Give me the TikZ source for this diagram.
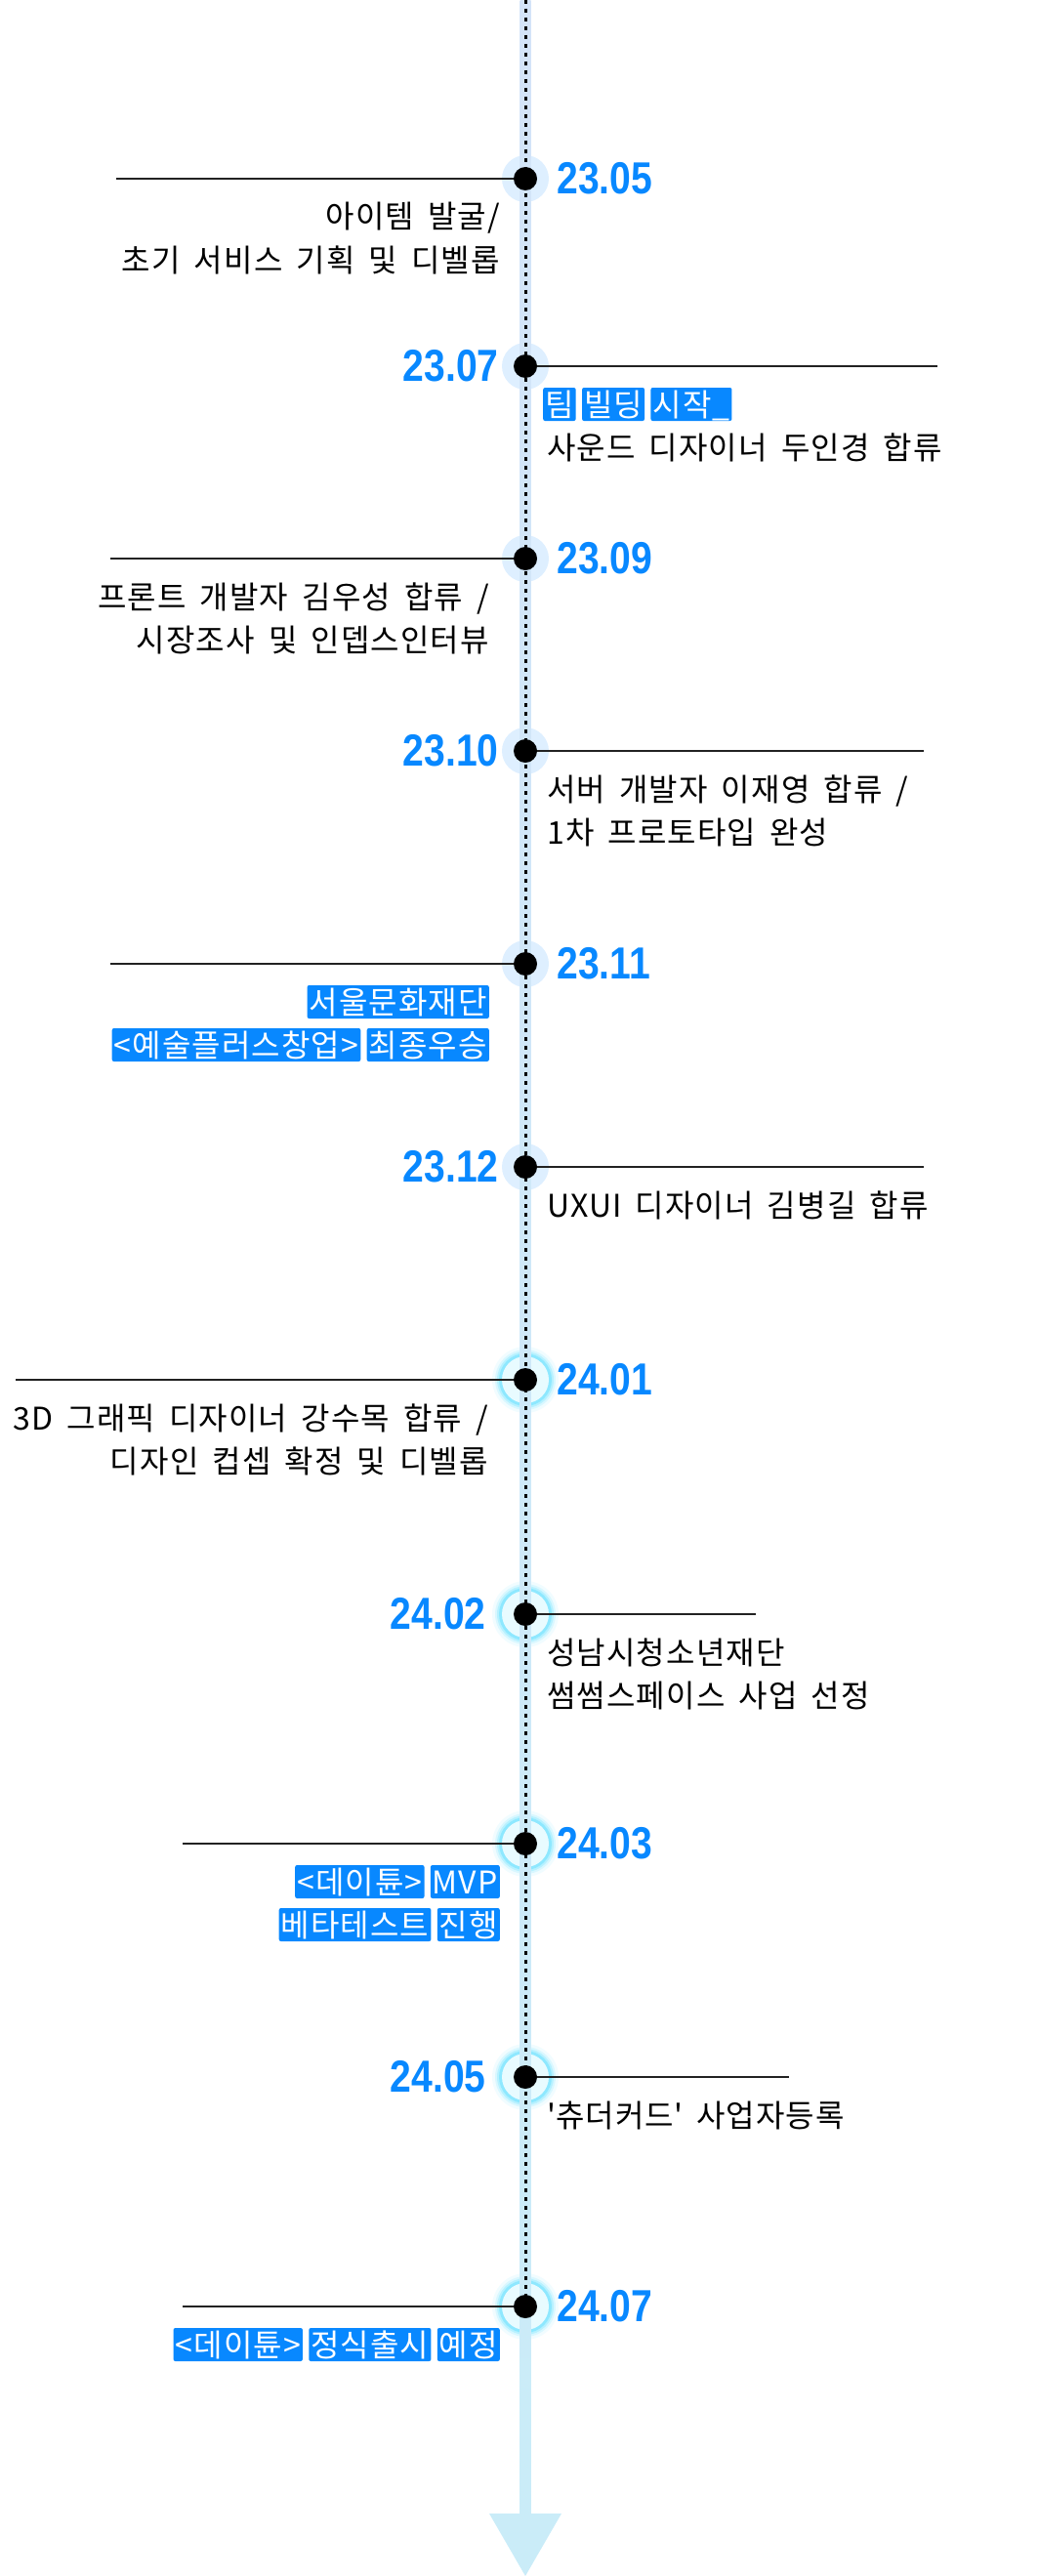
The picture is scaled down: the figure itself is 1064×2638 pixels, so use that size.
\documentclass[tikz,border=0pt]{standalone}
\usepackage{fontspec}
\setmainfont{Noto Sans CJK KR}[WordSpace=1.7, LetterSpace=3.5]
\newfontfamily\datefont{Liberation Sans}[FakeStretch=0.85]
\definecolor{dateblue}{RGB}{8,136,255}
\definecolor{hlblue}{RGB}{8,136,255}
\definecolor{bandtop}{RGB}{212,228,248}
\definecolor{bandbot}{RGB}{202,236,248}
\definecolor{halo23}{RGB}{222,239,255}
\definecolor{halo24}{RGB}{232,251,255}
\definecolor{glowcyan}{RGB}{80,220,255}
\definecolor{linegray}{RGB}{34,34,34}
\usetikzlibrary{positioning,backgrounds}

\tikzset{
  evdot/.style={circle, fill=black, inner sep=0pt, minimum size=24pt},
  datelbl/.style={font=\datefont\bfseries\fontsize{46}{46}\selectfont, text=dateblue, inner sep=0pt},
  txt/.style={font=\fontsize{32}{40}\selectfont, inner sep=0pt},
  hlword/.style={txt, fill=hlblue, text=white, rounded corners=2pt,
    text height=27pt, text depth=3pt, inner xsep=2pt, inner ysep=2pt},
  hline/.style={line width=2pt, draw=linegray},
  dotline/.style={line width=3pt, dash pattern=on 4pt off 5pt},
}

\begin{document}
\begin{tikzpicture}[x=1pt,y=-1pt]
  \useasboundingbox (0,0) rectangle (1064,2638);
  \coordinate (top) at (538,0);
  \coordinate (head) at (538,2574);
  \coordinate (tip) at (538,2638);

  % events on the axis
  \node[evdot] (d2305) at (538,183) {};
  \node[evdot] (d2307) at (538,375) {};
  \node[evdot] (d2309) at (538,572) {};
  \node[evdot] (d2310) at (538,769) {};
  \node[evdot] (d2311) at (538,987) {};
  \node[evdot] (d2312) at (538,1195) {};
  \node[evdot] (d2401) at (538,1413) {};
  \node[evdot] (d2402) at (538,1653) {};
  \node[evdot] (d2403) at (538,1888) {};
  \node[evdot] (d2405) at (538,2127) {};
  \node[evdot] (d2407) at (538,2362) {};

  % tick ends
  \coordinate (e2305) at (119,183);
  \coordinate (e2307) at (960,375);
  \coordinate (e2309) at (113,572);
  \coordinate (e2310) at (946,769);
  \coordinate (e2311) at (113,987);
  \coordinate (e2312) at (946,1195);
  \coordinate (e2401) at (16,1413);
  \coordinate (e2402) at (774,1653);
  \coordinate (e2403) at (187,1888);
  \coordinate (e2405) at (808,2127);
  \coordinate (e2407) at (187,2362);

  % dates
  \node[datelbl, right=20pt of d2305] (l2305) {23.05};
  \node[datelbl, left=15pt of d2307] (l2307) {23.07};
  \node[datelbl, right=20pt of d2309] (l2309) {23.09};
  \node[datelbl, left=15pt of d2310] (l2310) {23.10};
  \node[datelbl, right=20pt of d2311] (l2311) {23.11};
  \node[datelbl, left=15pt of d2312] (l2312) {23.12};
  \node[datelbl, right=20pt of d2401] (l2401) {24.01};
  \node[datelbl, left=28pt of d2402] (l2402) {24.02};
  \node[datelbl, right=20pt of d2403] (l2403) {24.03};
  \node[datelbl, left=28pt of d2405] (l2405) {24.05};
  \node[datelbl, right=20pt of d2407] (l2407) {24.07};

  % descriptions
  \node[txt, anchor=base east] (t2305a) at (512,234) {아이템 발굴/};
  \node[txt, anchor=base east] (t2305b) at (512,278) {초기 서비스 기획 및 디벨롭};

  \node[hlword, anchor=base west] (t2307a) at (556,426) {팀};
  \node[hlword, right=6pt of t2307a] (t2307b) {빌딩};
  \node[hlword, right=6pt of t2307b] (t2307c) {시작\_};
  \node[txt, anchor=base west] (t2307d) at (560,470) {사운드 디자이너 두인경 합류};

  \node[txt, anchor=base east] (t2309a) at (501,623) {프론트 개발자 김우성 합류 /};
  \node[txt, anchor=base east] (t2309b) at (501,667) {시장조사 및 인뎁스인터뷰};

  \node[txt, anchor=base west] (t2310a) at (560,820) {서버 개발자 이재영 합류 /};
  \node[txt, anchor=base west] (t2310b) at (560,864) {1차 프로토타입 완성};

  \node[hlword, anchor=base east] (t2311a) at (501,1038) {서울문화재단};
  \node[hlword, anchor=base east] (t2311c) at (501,1082) {최종우승};
  \node[hlword, left=6pt of t2311c] (t2311b) {<예술플러스창업>};

  \node[txt, anchor=base west] (t2312a) at (560,1246) {UXUI 디자이너 김병길 합류};

  \node[txt, anchor=base east] (t2401a) at (500,1464) {3D 그래픽 디자이너 강수목 합류 /};
  \node[txt, anchor=base east] (t2401b) at (500,1508) {디자인 컵셉 확정 및 디벨롭};

  \node[txt, anchor=base west] (t2402a) at (560,1704) {성남시청소년재단};
  \node[txt, anchor=base west] (t2402b) at (560,1748) {썸썸스페이스 사업 선정};

  \node[hlword, anchor=base east] (t2403b) at (512,1939) {MVP};
  \node[hlword, left=6pt of t2403b] (t2403a) {<데이튠>};
  \node[hlword, anchor=base east] (t2403d) at (512,1983) {진행};
  \node[hlword, left=6pt of t2403d] (t2403c) {베타테스트};

  \node[txt, anchor=base west] (t2405a) at (560,2178) {\textquotesingle 츄더커드\textquotesingle{} 사업자등록};

  \node[hlword, anchor=base east] (t2407c) at (512,2413) {예정};
  \node[hlword, left=6pt of t2407c] (t2407b) {정식출시};
  \node[hlword, left=6pt of t2407b] (t2407a) {<데이튠>};

  \begin{scope}[on background layer]
    % halos, 2023 plain and 2024 glowing
    \foreach \ev in {d2305,d2307,d2309,d2310,d2311,d2312}
      \fill[halo23] (\ev.center) circle (24pt);
    \foreach \ev in {d2401,d2402,d2403,d2405,d2407} {
      \foreach \r/\o in {34/0.08,31/0.15,29/0.25,27/0.4}
        \fill[glowcyan, opacity=\o] (\ev.center) circle (\r pt);
      \fill[halo24] (\ev.center) circle (24pt);
    }
    % band and arrow
    \shade[top color=bandtop, bottom color=bandbot] ([xshift=-5.5pt]top) rectangle ([xshift=5.5pt]head);
    \fill[bandbot] ([xshift=-37pt]head) -- ([xshift=37pt]head) -- (tip) -- cycle;
    \draw[dotline] (top) -- (d2407.center);
    % ticks
    \foreach \ev in {2305,2307,2309,2310,2311,2312,2401,2402,2403,2405,2407}
      \draw[hline] (d\ev) -- (e\ev);
  \end{scope}
\end{tikzpicture}
\end{document}
